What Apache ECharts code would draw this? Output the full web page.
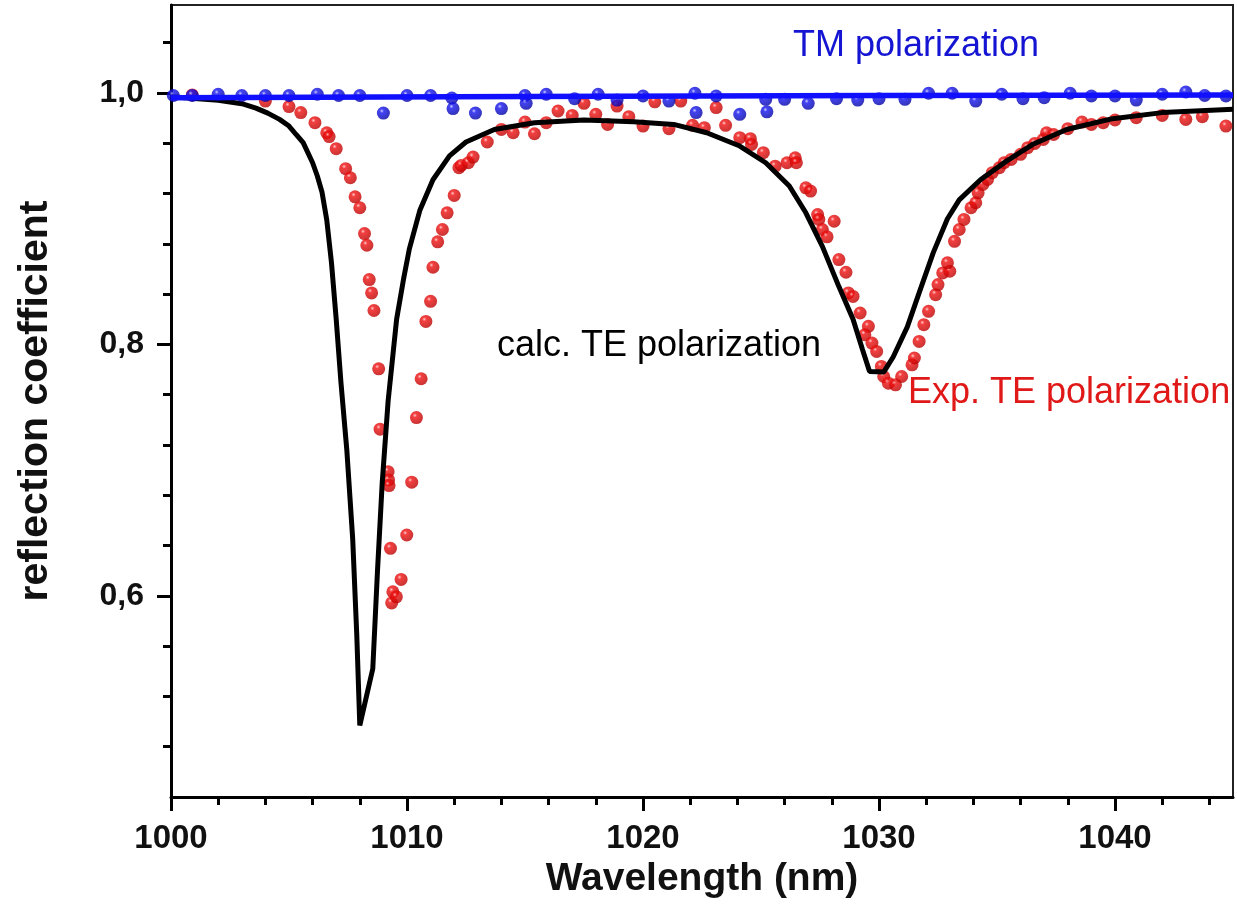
<!DOCTYPE html>
<html>
<head>
<meta charset="utf-8">
<script src="https://cdn.jsdelivr.net/npm/echarts@6/dist/echarts.min.js"></script>
<style>
html,body{margin:0;padding:0;background:#fff;}
#chart{width:1237px;height:912px;}
</style>
</head>
<body>
<div id="chart"></div>
<script>
// ---- data ----
const xMajorTicks = [1000, 1010, 1020, 1030, 1040];
const xMinorTicks = [1002,1004,1006,1008,1012,1014,1016,1018,1022,1024,1026,1028,1032,1034,1036,1038,1042,1044];
const yMajorTicks = [0.6, 0.8, 1.0];
const yMinorTicks = [0.48,0.52,0.56,0.64,0.68,0.72,0.76,0.84,0.88,0.92,0.96,1.04];

const calcTE = [
 [1000,0.997],[1001,0.9957],[1002,0.9942],[1003,0.9915],[1003.6,0.988],[1004.1,0.984],[1004.6,0.979],
 [1005.0,0.9737],[1005.3,0.967],[1005.6,0.9605],[1006.0,0.9445],[1006.2,0.934],[1006.4,0.921],
 [1006.6,0.899],[1006.8,0.865],[1007.0,0.82],[1007.2,0.77],[1007.45,0.716],[1007.7,0.645],
 [1007.87,0.57],[1008.0,0.497],[1008.55,0.542],[1008.75,0.62],[1008.95,0.69],[1009.2,0.755],
 [1009.56,0.82],[1009.85,0.8516],[1010.1,0.876],[1010.55,0.907],[1011.1,0.931],[1011.8,0.95],
 [1012.5,0.961],[1013.7,0.971],[1015.4,0.9764],[1017.5,0.9785],[1019.6,0.9772],[1021.3,0.975],
 [1022.7,0.9684],[1024.1,0.9578],[1025.2,0.9445],[1026.2,0.926],[1026.9,0.9047],[1027.6,0.878],
 [1028.3,0.846],[1028.9,0.82],[1029.3,0.796],[1029.6,0.7785],[1030.2,0.778],[1030.6,0.790],
 [1031.2,0.814],[1031.7,0.841],[1032.3,0.873],[1032.9,0.900],[1033.4,0.915],[1034.3,0.931],
 [1035.4,0.9458],[1036.5,0.959],[1037.95,0.971],[1039.9,0.9796],[1042.0,0.9844],[1045,0.987]
];

const expTE = [
 [1000.9,0.9985],[1004.0,0.9936],[1005.0,0.9892],[1005.5,0.9844],[1006.1,0.9764],[1006.6,0.9684],
 [1006.7,0.9653],[1007.0,0.9557],[1007.4,0.9398],[1007.6,0.9326],[1007.8,0.9174],[1008.0,0.9087],
 [1008.2,0.8882],[1008.3,0.8789],[1008.4,0.8516],[1008.5,0.841],[1008.6,0.827],[1008.8,0.7806],
 [1008.86,0.7326],[1009.2,0.6988],[1009.22,0.6922],[1009.24,0.6877],[1009.3,0.6378],[1009.4,0.6032],
 [1009.35,0.5944],[1009.55,0.5992],[1009.75,0.6131],[1009.99,0.6484],[1010.2,0.6904],[1010.4,0.7418],
 [1010.6,0.7727],[1010.8,0.8183],[1011.0,0.8343],[1011.1,0.8614],[1011.3,0.8816],[1011.5,0.8914],
 [1011.7,0.9047],[1012.0,0.9185],[1012.2,0.9406],[1012.3,0.9424],[1012.6,0.9445],[1012.8,0.949],
 [1013.4,0.961],[1014.0,0.971],[1014.5,0.9684],[1015.0,0.9769],[1015.4,0.9676],[1015.9,0.9764],
 [1016.4,0.9857],[1017.0,0.9822],[1017.5,0.9918],[1018.0,0.983],[1018.5,0.975],[1018.9,0.9896],
 [1019.4,0.9812],[1020.0,0.9737],[1020.5,0.993],[1021.1,0.9716],[1021.6,0.9936],[1022.1,0.9743],
 [1022.6,0.9724],[1023.1,0.9884],[1023.5,0.9743],[1024.1,0.9645],[1024.55,0.9637],[1024.6,0.9591],
 [1025.1,0.9525],[1025.6,0.9418],[1026.1,0.9445],[1026.45,0.9485],[1026.5,0.9445],[1026.9,0.9246],
 [1027.1,0.922],[1027.4,0.9033],[1027.45,0.8994],[1028.1,0.898],[1027.6,0.8914],[1027.8,0.8856],
 [1028.3,0.8675],[1028.6,0.8574],[1028.7,0.841],[1028.9,0.8382],[1029.2,0.825],[1029.55,0.8144],
 [1029.4,0.8077],[1029.7,0.8011],[1029.9,0.7944],[1030.1,0.7825],[1030.2,0.7745],[1030.4,0.7692],
 [1030.7,0.7679],[1030.96,0.7745],[1031.4,0.7838],[1031.5,0.7892],[1031.7,0.8024],[1031.9,0.8157],
 [1032.1,0.8263],[1032.4,0.8396],[1032.5,0.8476],[1032.7,0.8569],[1033.0,0.8582],[1032.9,0.8649],
 [1033.2,0.882],[1033.4,0.8914],[1033.6,0.8994],[1033.9,0.9087],[1034.1,0.9127],[1034.2,0.9206],
 [1034.4,0.9272],[1034.6,0.9312],[1034.8,0.9366],[1035.1,0.9406],[1035.3,0.9445],[1035.6,0.9472],
 [1036.0,0.9512],[1036.3,0.9565],[1036.6,0.9599],[1036.96,0.9631],[1037.1,0.9684],[1037.4,0.967],
 [1038.0,0.9716],[1038.6,0.9769],[1039.0,0.975],[1039.5,0.9764],[1040.0,0.9785],[1040.9,0.9804],
 [1042.0,0.9822],[1043.0,0.979],[1043.7,0.9812],[1044.7,0.9737]
];

const expTM = [
 [1000.1,0.998],[1000.9,0.998],[1002.0,0.999],[1003.0,0.998],[1004.0,0.998],[1005.0,0.998],
 [1006.2,0.999],[1007.1,0.998],[1008.0,0.998],[1009.0,0.984],[1010.0,0.998],[1011.0,0.998],
 [1011.9,0.996],[1011.95,0.9876],[1012.9,0.984],[1014.0,0.9876],[1015.0,0.998],[1015.05,0.9918],
 [1015.9,0.999],[1017.1,0.9955],[1018.1,0.999],[1018.9,0.9944],[1020.0,0.9976],[1021.1,0.9936],
 [1022.2,0.9998],[1022.25,0.9844],[1023.1,0.9976],[1024.1,0.983],[1025.2,0.995],[1025.25,0.985],
 [1026.0,0.995],[1027.0,0.9918],[1028.2,0.9955],[1029.1,0.9944],[1030.0,0.9955],[1031.1,0.995],
 [1032.1,0.9998],[1033.1,0.9998],[1034.1,0.9936],[1035.2,0.999],[1036.1,0.9955],[1037.0,0.9963],
 [1038.1,0.9998],[1039.0,0.9976],[1040.0,0.9976],[1040.9,0.9944],[1042.0,0.999],[1043.0,1.0008],
 [1043.8,0.998],[1044.7,0.9976]
];

const calcTM = [[1000,0.9963],[1015,0.9972],[1030,0.998],[1045,0.9984]];

// ---- chart ----
const FONT = 'Liberation Sans, Arial, Helvetica, sans-serif';
function sphere(hi, base, dark){
  return {type:'radial', x:0.38, y:0.33, r:0.72, colorStops:[
    {offset:0, color:hi},{offset:0.22, color:base},{offset:1, color:dark}]};
}
const chart = echarts.init(document.getElementById('chart'), null, {renderer:'canvas'});
const commonX = {type:'value', min:1000, max:1045, splitLine:{show:false}};
const commonY = {type:'value', min:0.44, max:1.07, splitLine:{show:false}};
chart.setOption({
  animation:false,
  backgroundColor:'#fff',
  grid:{left:171, right:4, top:5, bottom:115, show:true, borderColor:'#222', borderWidth:2,
        containLabel:false, outerBoundsMode:'none'},
  xAxis:[
    Object.assign({}, commonX, {
      position:'bottom',
      axisLine:{show:true, onZero:false, lineStyle:{color:'#000', width:3}},
      axisTick:{show:true, customValues:xMajorTicks, length:14, lineStyle:{color:'#000', width:3}},
      axisLabel:{show:true, customValues:xMajorTicks, margin:25, color:'#111',
        fontFamily:FONT, fontWeight:'bold', fontSize:33, formatter:v=>String(Math.round(v))},
      name:'Wavelength (nm)', nameLocation:'middle', nameGap:60,
      nameTextStyle:{fontFamily:FONT, fontWeight:'bold', fontSize:39, color:'#111'}
    }),
    Object.assign({}, commonX, {
      position:'bottom',
      axisLine:{show:false, onZero:false},
      axisTick:{show:true, customValues:xMinorTicks, length:8, lineStyle:{color:'#000', width:3}},
      axisLabel:{show:false}
    })
  ],
  yAxis:[
    Object.assign({}, commonY, {
      position:'left',
      axisLine:{show:true, onZero:false, lineStyle:{color:'#000', width:3}},
      axisTick:{show:true, customValues:yMajorTicks, length:14, lineStyle:{color:'#000', width:3}},
      axisLabel:{show:true, customValues:yMajorTicks, margin:27, color:'#111',
        fontFamily:FONT, fontWeight:'bold', fontSize:32,
        formatter:v=>v.toFixed(1).replace('.', ',')},
      name:'reflection coefficient', nameLocation:'middle', nameGap:115, nameRotate:90,
      nameTextStyle:{fontFamily:FONT, fontWeight:'bold', fontSize:41, color:'#111'}
    }),
    Object.assign({}, commonY, {
      position:'left',
      axisLine:{show:false, onZero:false},
      axisTick:{show:true, customValues:yMinorTicks, length:8, lineStyle:{color:'#000', width:3}},
      axisLabel:{show:false}
    })
  ],
  series:[
    {type:'scatter', name:'Exp. TE', data:expTE, symbol:'circle', symbolSize:13,
     itemStyle:{color:sphere('#ffc0c0','#f01010','#b80000')}, z:2},
    {type:'line', name:'calc TE', data:calcTE, showSymbol:false, symbol:'none', smooth:false,
     lineStyle:{color:'#000', width:5}, z:3},
    {type:'scatter', name:'Exp. TM', data:expTM, symbol:'circle', symbolSize:13,
     itemStyle:{color:sphere('#c0c0ff','#1414f0','#0000a0')}, z:4},
    {type:'line', name:'calc TM', data:calcTM, showSymbol:false, symbol:'none',
     lineStyle:{color:'#1010ff', width:5.5}, z:5}
  ],
  graphic:[
    {type:'text', left:793, top:28, style:{text:'TM polarization', fill:'#1414d2',
      font:'36px ' + FONT}},
    {type:'text', left:497, top:328, style:{text:'calc. TE polarization', fill:'#000',
      font:'36px ' + FONT}},
    {type:'text', left:908, top:375, style:{text:'Exp. TE polarization', fill:'#e01818',
      font:'36px ' + FONT}}
  ]
});
</script>
</body>
</html>
